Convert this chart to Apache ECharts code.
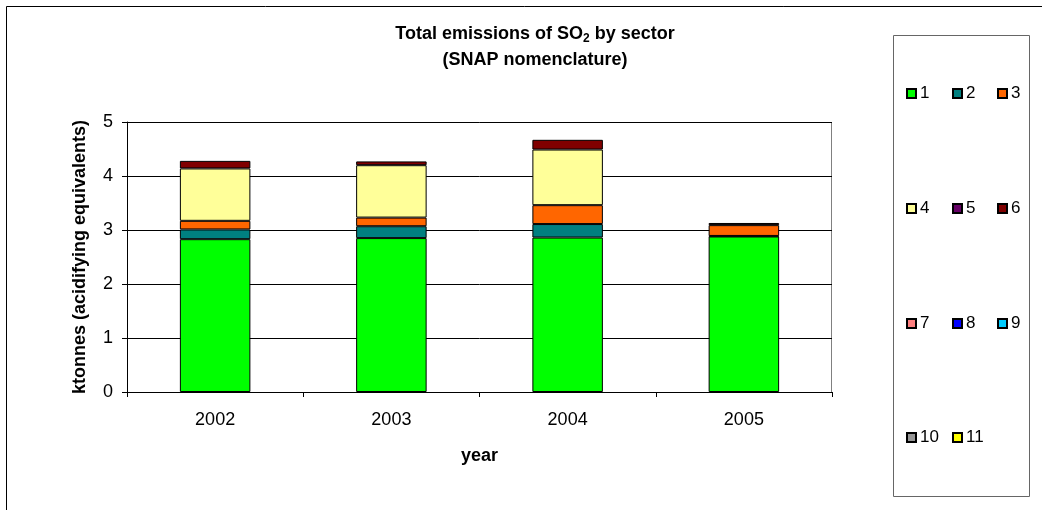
<!DOCTYPE html>
<html>
<head>
<meta charset="utf-8">
<script src="https://cdn.jsdelivr.net/npm/echarts@6/dist/echarts.min.js"></script>
<style>
  html, body { margin: 0; padding: 0; background: #fff; }
  #chart { width: 1042px; height: 510px; }
</style>
</head>
<body>
<div id="chart"></div>
<script>
// Years on the category axis
const years = ['2002', '2003', '2004', '2005'];

// SO2 emissions per SNAP sector, ktonnes (acidifying equivalents)
const sector1 = [2.83, 2.85, 2.86, 2.88];
const sector2 = [0.18, 0.22, 0.25, 0.01];
const sector3 = [0.16, 0.16, 0.35, 0.20];
const sector4 = [0.97, 0.97, 1.03, null];
const sector5 = [null, null, null, null];
const sector6 = [0.14, 0.07, 0.18, 0.04];
const sector7 = [null, null, null, null];
const sector8 = [null, null, null, null];
const sector9 = [null, null, null, null];
const sector10 = [null, null, null, null];
const sector11 = [null, null, null, null];

// Value axis ticks
const yTicks = [0, 1, 2, 3, 4, 5];

const sectorNames = ['1', '2', '3', '4', '5', '6', '7', '8', '9', '10', '11'];
const sectorData = [sector1, sector2, sector3, sector4, sector5, sector6,
                    sector7, sector8, sector9, sector10, sector11];
const sectorColors = ['#00FF00', '#008080', '#FF6600', '#FFFF99', '#660066', '#800000',
                      '#FF8080', '#0000FF', '#00CCFF', '#969696', '#FFFF00'];

const font = "'Liberation Sans', Arial, sans-serif";

const series = sectorNames.map((name, i) => ({
  name: name,
  type: 'bar',
  stack: 'total',
  barWidth: '40%',
  data: sectorData[i],
  itemStyle: { color: sectorColors[i], borderColor: '#000', borderWidth: 1 },
  emphasis: { disabled: true }
}));

// Legend laid out as a 3-column grid inside the framed box
const colX = [906, 952, 997];
const rowY = [92, 207, 322, 436];
const legends = sectorNames.map((name, i) => ({
  data: [name],
  left: colX[i % 3],
  top: rowY[Math.floor(i / 3)] - 7,
  padding: 0,
  itemWidth: 9,
  itemHeight: 9,
  itemGap: 0,
  icon: 'rect',
  selectedMode: false,
  textStyle: { fontFamily: font, fontSize: 17, color: '#000', padding: [0, 0, 0, -1] }
}));

const chart = echarts.init(document.getElementById('chart'), null, { renderer: 'canvas' });
chart.setOption({
  backgroundColor: '#fff',
  animation: false,
  title: {
    text: '{b|Total emissions of SO}{s|2}{b| by sector}\n{b|(SNAP nomenclature)}',
    left: 530,
    textAlign: 'center',
    top: 16,
    textStyle: {
      rich: {
        b: { fontFamily: font, fontSize: 18, fontWeight: 'bold', color: '#000', lineHeight: 26 },
        s: { fontFamily: font, fontSize: 12, fontWeight: 'bold', color: '#000', padding: [10, 0, 0, 0], lineHeight: 26 }
      }
    }
  },
  legend: legends,
  grid: { left: 127, right: 210, top: 122, bottom: 118, show: false },
  xAxis: {
    type: 'category',
    data: years,
    name: 'year',
    nameLocation: 'middle',
    nameGap: 55,
    nameTextStyle: { fontFamily: font, fontSize: 18, fontWeight: 'bold', color: '#000' },
    axisLine: { lineStyle: { color: '#000', width: 1 } },
    axisTick: { show: true, length: 5, lineStyle: { color: '#000' } },
    axisLabel: { fontFamily: font, fontSize: 18, color: '#000', margin: 19 }
  },
  yAxis: {
    type: 'value',
    min: yTicks[0],
    max: yTicks[yTicks.length - 1],
    interval: 1,
    name: 'ktonnes (acidifying equivalents)',
    nameLocation: 'middle',
    nameGap: 38,
    nameTextStyle: { fontFamily: font, fontSize: 18, fontWeight: 'bold', color: '#000' },
    axisLine: { show: true, lineStyle: { color: '#000', width: 1 } },
    axisTick: { show: true, length: 5, lineStyle: { color: '#000' } },
    axisLabel: { fontFamily: font, fontSize: 18, color: '#000', margin: 14 },
    splitLine: { show: true, lineStyle: { color: '#000', width: 1 } }
  },
  series: series,
  graphic: [
    // outer chart frame (top and left edges)
    { type: 'polyline', silent: true, shape: { points: [[6.5, 510], [6.5, 6.5], [1042, 6.5]] },
      style: { stroke: '#000', lineWidth: 1, fill: null } },
    // plot area frame
    { type: 'rect', silent: true, z: -1, shape: { x: 127.5, y: 122.5, width: 704, height: 270 },
      style: { stroke: '#808080', lineWidth: 1, fill: null } },
    // legend frame
    { type: 'rect', silent: true, shape: { x: 893.5, y: 35.5, width: 136, height: 461 },
      style: { stroke: '#666', lineWidth: 1, fill: null } }
  ]
});
</script>
</body>
</html>
